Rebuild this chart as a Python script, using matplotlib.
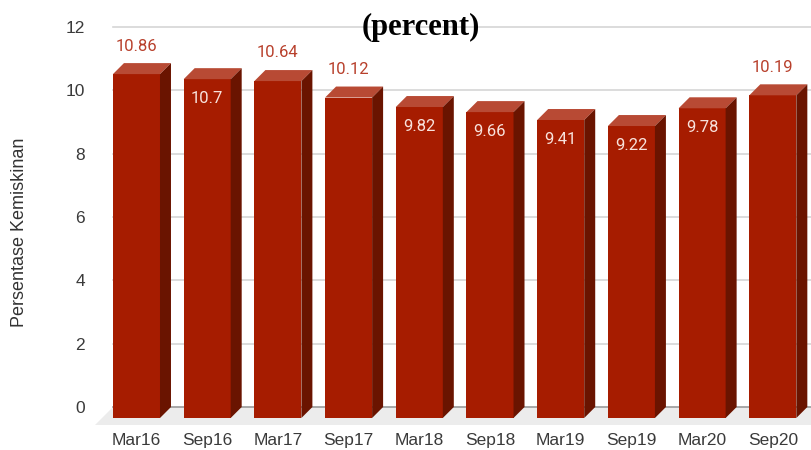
import matplotlib.pyplot as plt
from matplotlib.patches import Polygon, Rectangle

periods = ["Mar16", "Sep16", "Mar17", "Sep17", "Mar18", "Sep18", "Mar19", "Sep19", "Mar20", "Sep20"]
poverty = [10.86, 10.70, 10.64, 10.12, 9.82, 9.66, 9.41, 9.22, 9.78, 10.19]
label_above = [True, False, True, True, False, False, False, False, False, True]
yticks = [0, 2, 4, 6, 8, 10, 12]

FRONT = "#a61c00"
TOP = "#b84a34"
SIDE = "#6a1400"

fig = plt.figure(figsize=(8.11, 4.5), dpi=100)
ax = fig.add_axes([113 / 811, 43 / 450, 698 / 811, 380 / 450])
ax.set_xlim(-0.332, 9.54)
ax.set_ylim(0, 12)

# pixel -> data scale
dx = 11 / 70.7
dy = 11 / 31.67
w = 0.665

# floor
fd = 18 / 31.67
floor = Polygon([(-0.587, -fd), (9.8, -fd), (9.8, 0), (-0.332, 0)],
                closed=True, facecolor="#ececec", edgecolor="none", clip_on=False, zorder=0)
ax.add_patch(floor)

for t in yticks:
    if t == 0:
        ax.axhline(t, color="#9a9a9a", lw=1.2, zorder=1, clip_on=False)
    else:
        ax.axhline(t, color="#d6d6d6", lw=1.2, zorder=1, clip_on=False)

for i, v in enumerate(poverty):
    x0 = i - w / 2
    x1 = i + w / 2
    ax.add_patch(Rectangle((x0, -dy), w, v, facecolor=FRONT, edgecolor="none",
                           clip_on=False, zorder=3))
    ax.add_patch(Polygon([(x0, v - dy), (x1, v - dy), (x1 + dx, v), (x0 + dx, v)],
                         closed=True, facecolor=TOP, edgecolor="none", clip_on=False, zorder=3))
    ax.add_patch(Polygon([(x1, -dy), (x1 + dx, 0), (x1 + dx, v), (x1, v - dy)],
                         closed=True, facecolor=SIDE, edgecolor="none", clip_on=False, zorder=3))
    txt = f"{v:g}"
    if label_above[i]:
        ax.text(i, v + 0.54, txt, ha="center", va="center", fontsize=12,
                family="Roboto", color="#b8402c", zorder=4)
    else:
        ax.text(i, v - 0.95, txt, ha="center", va="center", fontsize=12,
                family="Roboto", color="#f8e2dc", zorder=4)

ax.set_xticks(range(len(periods)))
ax.set_xticklabels(periods, fontsize=12.5, family="Liberation Sans", color="#3a3a3a")
ax.set_yticks(yticks)
ax.set_yticklabels([str(t) for t in yticks], fontsize=12.5, family="Liberation Sans", color="#3a3a3a")
ax.tick_params(axis="x", length=0, pad=19)
ax.tick_params(axis="y", length=0, pad=20)
for s in ax.spines.values():
    s.set_visible(False)
ax.patch.set_alpha(0)

fig.text(20 / 811, 1 - 232 / 450, "Persentase Kemiskinan", rotation=90, ha="center", va="center",
         fontsize=13, family="Liberation Sans", color="#333333")
fig.text(421 / 811, 1 - 27 / 450, "(percent)", ha="center", va="center", fontsize=22,
         family="Liberation Serif", weight="bold", color="black")

fig.savefig("out.png", dpi=100)
